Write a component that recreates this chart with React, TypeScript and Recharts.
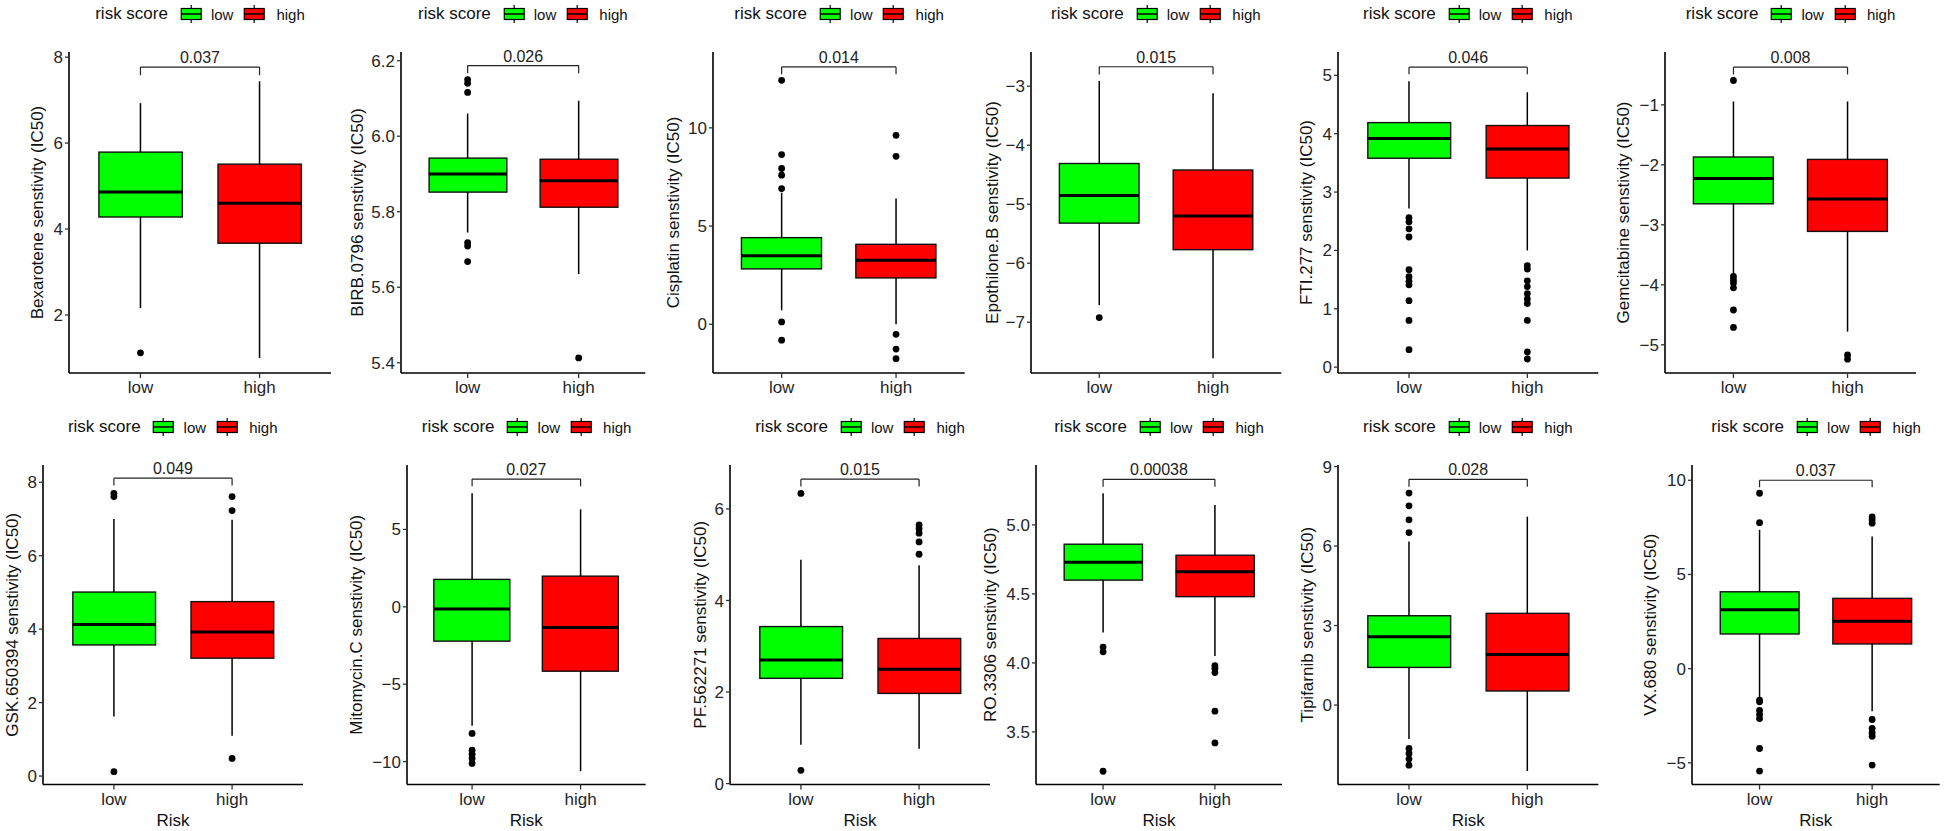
import React from "react";
import { ComposedChart, Bar, Scatter, ErrorBar, XAxis, YAxis, ReferenceLine } from "recharts";

const drugs = [
  "Bexarotene", "BIRB.0796", "Cisplatin", "Epothilone.B", "FTI.277", "Gemcitabine",
  "GSK.650394", "Mitomycin.C", "PF.562271", "RO.3306", "Tipifarnib", "VX.680",
];

const pValues = ["0.037", "0.026", "0.014", "0.015", "0.046", "0.008", "0.049", "0.027", "0.015", "0.00038", "0.028", "0.037"];

// [lower whisker, Q1, median, Q3, upper whisker]
const lowStats = [
  [2.16, 4.28, 4.86, 5.79, 6.93],
  [5.745, 5.852, 5.9, 5.942, 6.06],
  [0.71, 2.82, 3.49, 4.41, 6.7],
  [-6.71, -5.32, -4.85, -4.31, -2.91],
  [2.72, 3.58, 3.92, 4.19, 4.9],
  [-3.82, -2.65, -2.23, -1.87, -0.945],
  [1.62, 3.57, 4.13, 5.01, 7.0],
  [-7.69, -2.22, -0.15, 1.77, 7.33],
  [0.85, 2.3, 2.7, 3.43, 4.89],
  [4.22, 4.6, 4.73, 4.86, 5.23],
  [-1.28, 1.42, 2.58, 3.37, 6.17],
  [-1.52, 1.84, 3.13, 4.08, 7.37],
];

const highStats = [
  [1.0, 3.67, 4.6, 5.51, 7.44],
  [5.635, 5.812, 5.882, 5.939, 6.094],
  [0.0, 2.36, 3.26, 4.07, 6.4],
  [-7.61, -5.77, -5.2, -4.42, -3.12],
  [2.0, 3.24, 3.74, 4.14, 4.71],
  [-4.78, -3.11, -2.57, -1.91, -0.945],
  [1.1, 3.21, 3.92, 4.75, 6.98],
  [-10.62, -4.16, -1.33, 1.98, 6.3],
  [0.76, 1.97, 2.5, 3.17, 4.77],
  [4.05, 4.48, 4.66, 4.78, 5.145],
  [-2.49, 0.53, 1.91, 3.46, 7.11],
  [-2.26, 1.31, 2.51, 3.73, 7.01],
];

const lowOutliers = [
  [1.12],
  [6.15, 6.14, 6.116, 5.718, 5.709, 5.668],
  [12.42, 8.64, 7.93, 7.59, 6.91, 0.12, -0.81],
  [-6.92],
  [2.56, 2.49, 2.37, 2.23, 1.67, 1.55, 1.47, 1.41, 1.14, 0.8, 0.3],
  [-0.595, -3.86, -3.92, -3.97, -4.05, -4.42, -4.71],
  [7.7, 7.61, 0.12],
  [-8.18, -9.26, -9.52, -9.8, -10.12],
  [6.34, 0.29],
  [4.115, 4.08, 3.215],
  [8.0, 7.52, 6.99, 6.51, -1.64, -1.83, -2.04, -2.27],
  [9.31, 7.75, -1.67, -1.76, -2.22, -2.44, -2.65, -4.24, -5.44],
];

const highOutliers = [
  [],
  [5.413],
  [9.62, 8.55, -0.51, -1.26, -1.75],
  [],
  [1.74, 1.68, 1.48, 1.38, 1.26, 1.17, 1.09, 0.8, 0.26, 0.14],
  [-5.17, -5.24],
  [7.61, 7.23, 0.48],
  [],
  [5.65, 5.57, 5.47, 5.28, 5.01],
  [3.98, 3.96, 3.93, 3.65, 3.42],
  [],
  [8.05, 7.9, 7.72, -2.7, -3.17, -3.4, -3.59, -5.12],
];

const bracketY = [7.77, 6.187, 13.1, -2.67, 5.14, -0.373, 8.11, 8.25, 6.65, 5.33, 8.52, 10.0];
const bracketTip = [7.58, 6.167, 12.73, -2.8, 5.02, -0.495, 7.91, 7.78, 6.49, 5.277, 8.24, 9.63];

const yTicks = [
  [2, 4, 6, 8],
  [5.4, 5.6, 5.8, 6.0, 6.2],
  [0, 5, 10],
  [-7, -6, -5, -4, -3],
  [0, 1, 2, 3, 4, 5],
  [-5, -4, -3, -2, -1],
  [0, 2, 4, 6, 8],
  [-10, -5, 0, 5],
  [0, 2, 4, 6],
  [3.5, 4.0, 4.5, 5.0],
  [0, 3, 6, 9],
  [-5, 0, 5, 10],
];
const yDecimals = [0, 1, 0, 0, 0, 0, 0, 0, 0, 1, 0, 0];

const yDomains = [
  [0.65, 8.12],
  [5.373, 6.223],
  [-2.48, 13.86],
  [-7.86, -2.42],
  [-0.1, 5.4],
  [-5.47, -0.12],
  [-0.23, 8.47],
  [-11.48, 9.16],
  [-0.02, 6.96],
  [3.119, 5.434],
  [-3.0, 9.06],
  [-6.15, 10.81],
];

const groups = ["low", "high"];
const fills: Record<string, string> = { low: "#00FF00", high: "#FF0000" };

// plot area of each panel on the page: left, right, top, bottom, y-title centre x
const frames = [
  [69, 331, 52, 373, 36.7],
  [400.7, 645, 52, 373, 357],
  [713.3, 965, 52, 373, 673],
  [1030.7, 1281, 52, 373, 992],
  [1337.7, 1598, 52, 373, 1306],
  [1665, 1916, 52, 373, 1623],
  [42.7, 302.7, 465, 784.5, 12],
  [407.3, 646, 465, 784.5, 356],
  [730, 990, 465, 784.5, 700],
  [1036, 1282, 465, 784.5, 990],
  [1337.7, 1598, 465, 784.5, 1307],
  [1692.3, 1940, 465, 784.5, 1650],
];

const FONT = '"Liberation Sans", Arial, Helvetica, sans-serif';

const fmt = (d: number) => (v: number) => (d ? v.toFixed(d) : String(v)).replace("-", "\u2212");

function Key({ color }: { color: string }) {
  return (
    <svg width={22} height={18} style={{ display: "block" }}>
      <line x1={11} x2={11} y1={0} y2={18} stroke="#000" strokeWidth={1.2} />
      <rect x={1} y={3.5} width={20} height={11} fill={color} stroke="#000" strokeWidth={1.2} />
      <line x1={1} x2={21} y1={9} y2={9} stroke="#000" strokeWidth={1.6} />
    </svg>
  );
}

function RiskLegend({ cx, cy }: { cx: number; cy: number }) {
  return (
    <div
      style={{
        position: "absolute", left: cx, top: cy, transform: "translate(-50%, -50%)",
        display: "flex", alignItems: "center", whiteSpace: "nowrap", color: "#111", fontFamily: FONT,
      }}
    >
      <span style={{ fontSize: 17, marginRight: 12 }}>risk score</span>
      <Key color={fills.low} />
      <span style={{ fontSize: 15, margin: "0 10px 0 9px" }}>low</span>
      <Key color={fills.high} />
      <span style={{ fontSize: 15, marginLeft: 11 }}>high</span>
    </div>
  );
}

function Panel({ i }: { i: number }) {
  const [pl, pr, pt, pb, tx] = frames[i];
  const bottomRow = i >= 6;
  const rowTop = bottomRow ? 415 : 0;
  const height = bottomRow ? 416 : 415;
  const yw = 60;
  const plotW = pr - pl;
  const width = yw + plotW + 6;
  const xh = height - (pb - rowTop);
  const pad = 2 * (plotW * 0.6 / 2.2 - plotW / 4);
  const bw = 0.7 * plotW / 2.2;

  const stats = [lowStats[i], highStats[i]];
  const boxData = groups.map((g, k) => ({ risk: g, box: [stats[k][1], stats[k][3]] }));
  const whiskers = groups.flatMap((g, k) => [
    { risk: g, y: stats[k][1], err: [stats[k][1] - stats[k][0], 0] },
    { risk: g, y: stats[k][3], err: [0, stats[k][4] - stats[k][3]] },
  ]);
  const medians = groups.map((g, k) => ({ risk: g, y: stats[k][2] }));
  const outliers = [
    ...lowOutliers[i].map((v) => ({ risk: "low", y: v })),
    ...highOutliers[i].map((v) => ({ risk: "high", y: v })),
  ];

  const tickStyle = { fontSize: 17, fill: "#262626", fontFamily: FONT };

  return (
    <>
      <div style={{ position: "absolute", left: pl - yw, top: rowTop, width, height }}>
        <ComposedChart
          width={width}
          height={height}
          data={boxData}
          margin={{ top: pt - rowTop, right: 6, bottom: 0, left: 0 }}
          style={{ fontFamily: FONT }}
        >
          <XAxis
            dataKey="risk"
            type="category"
            allowDuplicatedCategory={false}
            height={xh}
            padding={{ left: pad, right: pad }}
            tick={tickStyle}
            tickLine={{ stroke: "#333", strokeWidth: 1.3 }}
            axisLine={{ stroke: "#000", strokeWidth: 1.6 }}
            tickSize={5}
            tickMargin={3}
            label={bottomRow ? { value: "Risk", position: "insideBottom", offset: 5, fontSize: 17, fill: "#111" } : undefined}
          />
          <YAxis
            type="number"
            domain={yDomains[i]}
            allowDataOverflow
            ticks={yTicks[i]}
            interval={0}
            tickFormatter={fmt(yDecimals[i])}
            width={yw}
            tick={tickStyle}
            tickLine={{ stroke: "#333", strokeWidth: 1.3 }}
            axisLine={{ stroke: "#000", strokeWidth: 1.6 }}
            tickSize={4}
            tickMargin={2}
            label={{
              value: `${drugs[i]} senstivity (IC50)`,
              angle: -90,
              position: "insideLeft",
              offset: tx - pl + yw,
              style: { textAnchor: "middle" },
              fontSize: 17,
              fill: "#111",
            }}
          />
          <Scatter data={whiskers} dataKey="y" shape={() => <g />} isAnimationActive={false}>
            <ErrorBar dataKey="err" direction="y" width={0} stroke="#000" strokeWidth={1.5} isAnimationActive={false} />
          </Scatter>
          <Bar
            dataKey="box"
            barSize={bw}
            isAnimationActive={false}
            shape={(p: any) => {
              const top = Math.min(p.y, p.y + p.height);
              const h = Math.abs(p.height);
              return (
                <rect x={p.x} y={top} width={p.width} height={h} fill={fills[p.payload.risk]} stroke="#111" strokeWidth={1.4} />
              );
            }}
          />
          <Scatter
            data={medians}
            dataKey="y"
            isAnimationActive={false}
            shape={(p: any) => (
              <line x1={p.cx - bw / 2} x2={p.cx + bw / 2} y1={p.cy} y2={p.cy} stroke="#000" strokeWidth={3} />
            )}
          />
          <Scatter
            data={outliers}
            dataKey="y"
            isAnimationActive={false}
            shape={(p: any) => <circle cx={p.cx} cy={p.cy} r={3.4} fill="#000" />}
          />
          <ReferenceLine
            segment={[{ x: "low", y: bracketY[i] }, { x: "high", y: bracketY[i] }]}
            stroke="#222"
            strokeWidth={1.2}
            label={{ value: pValues[i], position: "top", offset: 4, fontSize: 16, fill: "#222" }}
          />
          <ReferenceLine segment={[{ x: "low", y: bracketY[i] }, { x: "low", y: bracketTip[i] }]} stroke="#222" strokeWidth={1.2} />
          <ReferenceLine segment={[{ x: "high", y: bracketY[i] }, { x: "high", y: bracketTip[i] }]} stroke="#222" strokeWidth={1.2} />
        </ComposedChart>
      </div>
      <RiskLegend cx={(pl + pr) / 2} cy={bottomRow ? 427 : 14} />
    </>
  );
}

export default function App() {
  return (
    <div
      style={{
        position: "absolute", left: 0, top: 0, width: 1944, height: 831,
        overflow: "hidden", background: "#fff", fontFamily: FONT,
      }}
    >
      {drugs.map((_, i) => (
        <Panel key={i} i={i} />
      ))}
    </div>
  );
}
